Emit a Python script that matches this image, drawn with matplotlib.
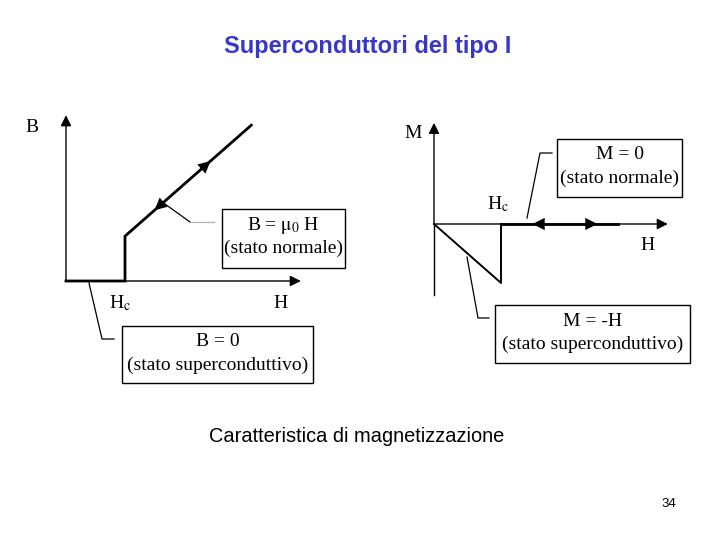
import matplotlib
matplotlib.use('Agg')
import matplotlib.pyplot as plt
from matplotlib.lines import Line2D
from matplotlib.patches import Rectangle

plt.rcParams['mathtext.fontset'] = 'stix'

# B(H) curve, H in units of Hc
bh_H = [0, 1, 1, 3.14]
bh_B = [0, 0, 0.76, 2.64]
bh_axis = (3.98, 2.81)          # length of H and B axes
bh_arrows = [(2.44, 1), (1.51, -1)]  # position along curve, direction

# M(H) curve
mh_H = [0, 1, 1]
mh_M = [0, -0.88, 0]
mh_normal = [1, 2.75]           # M = 0 branch above Hc
mh_axis = (3.49, 1.51, -1.06)
mh_arrows = [(1.48, -1), (2.43, 1)]

W, H = 720, 540
fig = plt.figure(figsize=(7.2, 5.4), dpi=100)
fig.patch.set_facecolor('white')


def fx(x, y):
    return (x / W, 1 - y / H)


def panel(ox, oy, scale):
    ax = fig.add_axes([0, 0, 1, 1])
    ax.set_xlim(-ox / scale, (W - ox) / scale)
    ax.set_ylim((oy - H) / scale, oy / scale)
    ax.axis('off')
    ax.patch.set_alpha(0)
    return ax


def axis_arrow(ax, x0, y0, x1, y1):
    ax.annotate('', xy=(x1, y1), xytext=(x0, y0),
                arrowprops=dict(arrowstyle='-|>', lw=1, color='k',
                                mutation_scale=16, shrinkA=0, shrinkB=0))


def mid_arrow(ax, x, y, dx, dy):
    ax.annotate('', xy=(x + dx, y + dy), xytext=(x, y),
                arrowprops=dict(arrowstyle='-|>', lw=0, color='k',
                                mutation_scale=22, shrinkA=0, shrinkB=0))


serif = dict(family='Liberation Serif', fontsize=14, color='black')

# left diagram: B vs H
ax1 = panel(66, 281, 59)
axis_arrow(ax1, 0, 0, bh_axis[0], 0)
axis_arrow(ax1, 0, 0, 0, bh_axis[1])
ax1.plot(bh_H, bh_B, color='k', lw=2.0, solid_joinstyle='miter')
slope = (bh_B[3] - bh_B[2]) / (bh_H[3] - bh_H[2])
for h, d in bh_arrows:
    b = bh_B[2] + (h - bh_H[2]) * slope
    mid_arrow(ax1, h, b, 0.01 * d, 0.01 * d * slope)

# right diagram: M vs H
ax2 = panel(434, 224, 67)
axis_arrow(ax2, 0, 0, mh_axis[0], 0)
ax2.plot([0, 0], [mh_axis[2], 0], color='k', lw=1)
axis_arrow(ax2, 0, 0, 0, mh_axis[1])
ax2.plot(mh_H, mh_M, color='k', lw=1.4)
ax2.plot(mh_normal, [0, 0], color='k', lw=2.0)
for h, d in mh_arrows:
    mid_arrow(ax2, h, 0, 0.01 * d, 0)

# labels
fig.text(*fx(32, 127), 'B', ha='center', va='center', **serif)
fig.text(*fx(281, 303), 'H', ha='center', va='center', **serif)
fig.text(*fx(120, 303), r'H$_\mathrm{c}$', ha='center', va='center', **serif)
fig.text(*fx(413, 134), 'M', ha='center', va='center', **serif)
fig.text(*fx(498, 204), r'H$_\mathrm{c}$', ha='center', va='center', **serif)
fig.text(*fx(648, 245), 'H', ha='center', va='center', **serif)

boxes = [
    ((222, 209, 345, 268), [r'B = $\mathrm{\mu_0}$ H', '(stato normale)']),
    ((122, 326, 313, 383), ['B = 0', '(stato superconduttivo)']),
    ((557, 139, 682, 197), ['M = 0', '(stato normale)']),
    ((495, 305, 690, 363), ['M = -H', '(stato superconduttivo)']),
]
for (x0, y0, x1, y1), lines in boxes:
    fig.add_artist(Rectangle(fx(x0, y1), (x1 - x0) / W, (y1 - y0) / H,
                             transform=fig.transFigure, fill=False,
                             lw=1, ec='k'))
    cx = (x0 + x1) / 2
    fig.text(*fx(cx, y0 + 16), lines[0], ha='center', va='center', **serif)
    fig.text(*fx(cx, y0 + 39), lines[1], ha='center', va='center', **serif)

leaders = [
    ([165, 190], [204, 222], 'k'),
    ([190, 214], [222, 222], '#b0b0b0'),
    ([89, 102, 114], [283, 339, 339], 'k'),
    ([527, 540, 552], [218, 153, 153], 'k'),
    ([467, 478, 489], [257, 318, 318], 'k'),
]
for xs, ys, c in leaders:
    fig.add_artist(Line2D([x / W for x in xs], [1 - y / H for y in ys],
                          transform=fig.transFigure, color=c, lw=0.9))

fig.text(*fx(368, 46), 'Superconduttori del tipo I', ha='center', va='center',
         family='Liberation Sans', fontsize=17, fontweight='bold',
         color='#3838c8')
fig.text(*fx(357, 437), 'Caratteristica di magnetizzazione', ha='center',
         va='center', family='Liberation Sans', fontsize=14.4, color='black')
fig.text(*fx(669, 504), '34', ha='center', va='center',
         family='Liberation Sans', fontsize=9.5, color='black')

fig.savefig('out.png', dpi=100)
